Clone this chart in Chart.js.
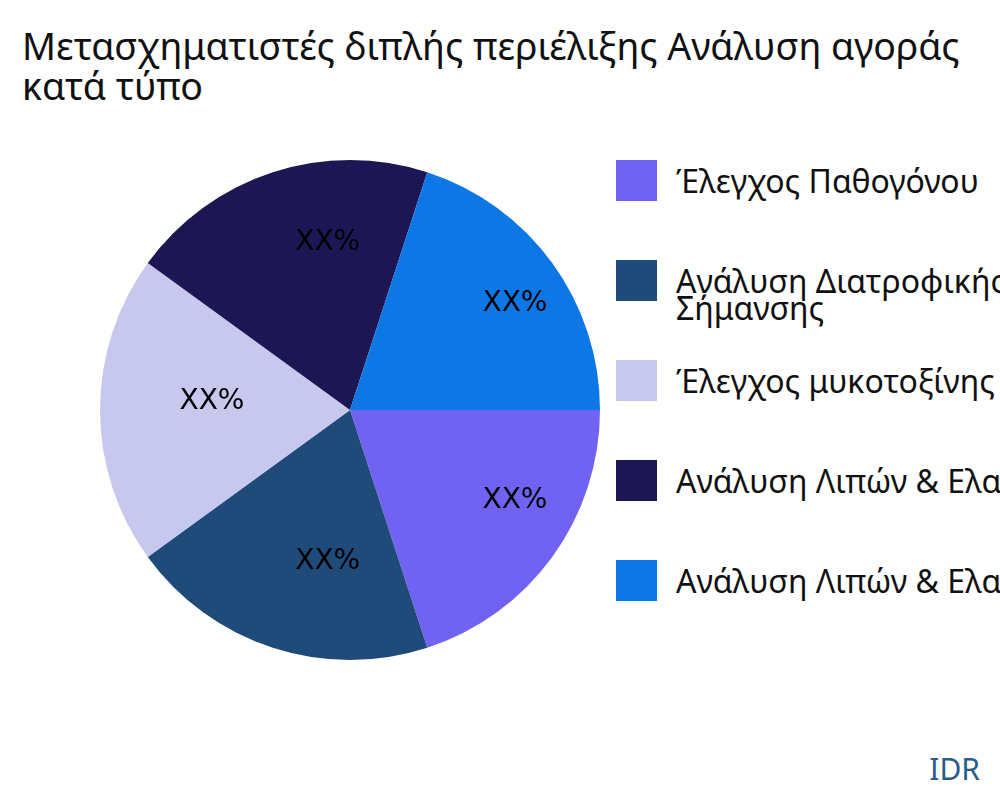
<!DOCTYPE html>
<html>
<head>
<meta charset="utf-8">
<script src="https://cdn.jsdelivr.net/npm/chart.js@4"></script>
<style>
  body { margin: 0; width: 1000px; height: 800px; overflow: hidden; background: #fff; font-family: 'Noto Sans', sans-serif; position: relative; }
  #title { position: absolute; left: 22px; top: 26px; font-size: 37.5px; line-height: 40px; color: #111; white-space: nowrap; }
  #wrap { position: absolute; left: 98px; top: 158px; width: 504px; height: 504px; }
  #legend { position: absolute; left: 616px; top: 160px; white-space: nowrap; }
  .item { position: absolute; left: 0; font-size: 32px; line-height: 27px; color: #111; }
  .sw { position: absolute; left: 0; top: 0; width: 41px; height: 41px; }
  .txt { position: absolute; left: 60px; top: 7px; }
  #idr { position: absolute; right: 20px; top: 748px; font-size: 30px; color: #2a5c8a; }
</style>
</head>
<body>
<div id="title">Μετασχηματιστές διπλής περιέλιξης Ανάλυση αγοράς<br>κατά τύπο</div>
<div id="wrap"><canvas id="chart"></canvas></div>
<div id="legend"></div>
<div id="idr">IDR</div>
<script>
const categories = ['Έλεγχος Παθογόνου', 'Ανάλυση Διατροφικής\nΣήμανσης', 'Έλεγχος μυκοτοξίνης', 'Ανάλυση Λιπών & Ελαίων', 'Ανάλυση Λιπών & Ελαίων'];
const values = [20, 20, 20, 20, 20];
const sliceLabels = ['XX%', 'XX%', 'XX%', 'XX%', 'XX%'];
const colors = ['#7163f2', '#1f4b7a', '#c8c8ef', '#1c1754', '#0d77e6'];

const legend = document.getElementById('legend');
categories.forEach((c, i) => {
    const d = document.createElement('div');
    d.className = 'item';
    d.style.top = (i * 100) + 'px';
    d.innerHTML = `<div class="sw" style="background:${colors[i]}"></div><div class="txt">${c.replace('\n', '<br>')}</div>`;
    legend.appendChild(d);
});

const labelPlugin = {
    id: 'sliceLabels',
    afterDatasetsDraw(chart) {
        const ctx = chart.ctx;
        const meta = chart.getDatasetMeta(0);
        ctx.save();
        ctx.font = '28px "DejaVu Sans", sans-serif';
        ctx.fillStyle = '#000';
        ctx.textAlign = 'left';
        ctx.textBaseline = 'middle';
        meta.data.forEach((arc, i) => {
            const a = (arc.startAngle + arc.endAngle) / 2;
            const r = arc.outerRadius * 0.67;
            ctx.fillText(sliceLabels[i], arc.x + Math.cos(a) * r - 3, arc.y + Math.sin(a) * r - 8);
        });
        ctx.restore();
    },
};

new Chart(document.getElementById('chart'), {
    type: 'pie',
    data: {
        labels: categories,
        datasets: [{ data: values, backgroundColor: colors, borderWidth: 0 }],
    },
    options: {
        responsive: true,
        maintainAspectRatio: false,
        animation: false,
        rotation: 90,
        layout: { padding: 2 },
        plugins: { legend: { display: false }, tooltip: { enabled: false } },
    },
    plugins: [labelPlugin],
});
</script>
</body>
</html>
